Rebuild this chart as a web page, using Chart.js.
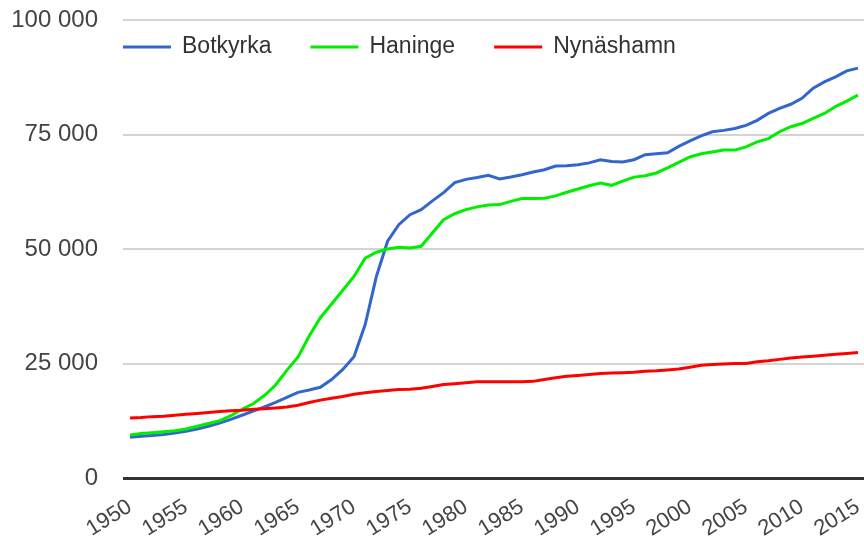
<!DOCTYPE html>
<html>
<head>
<meta charset="utf-8">
<script src="https://cdn.jsdelivr.net/npm/chart.js@4.4.1/dist/chart.umd.min.js"></script>
<style>
  html, body { margin: 0; padding: 0; background: #fff; }
  #wrap { width: 864px; height: 546px; position: relative; }
</style>
</head>
<body>
<div id="wrap"><canvas id="popChart"></canvas></div>
<script>
// Befolkning per år, 1950-2015
const years = [];
for (let y = 1950; y <= 2015; y++) years.push(y);

const botkyrka = [
  8900, 9100, 9300, 9500, 9800, 10200, 10700, 11300, 12000, 12800,
  13700, 14600, 15500, 16500, 17600, 18700, 19200, 19800, 21500, 23700,
  26500, 33500, 44000, 51700, 55300, 57500, 58600, 60500, 62300, 64500,
  65200, 65600, 66100, 65300, 65700, 66200, 66800, 67300, 68100, 68200,
  68400, 68800, 69500, 69100, 69000, 69500, 70600, 70800, 71000, 72400,
  73600, 74700, 75600, 75900, 76300, 77000, 78100, 79600, 80700, 81600,
  82900, 85100, 86500, 87600, 88900, 89500
];

const haninge = [
  9400, 9700, 9900, 10100, 10300, 10700, 11300, 11900, 12500, 13600,
  15000, 16200, 18000, 20300, 23500, 26400, 31000, 35000, 38000, 41000,
  44000, 48000, 49300, 50000, 50400, 50200, 50600, 53500, 56400, 57700,
  58600, 59200, 59600, 59700, 60400, 61000, 61000, 61100, 61600, 62400,
  63100, 63800, 64400, 63900, 64800, 65700, 66000, 66600, 67700, 68900,
  70100, 70800, 71200, 71600, 71600, 72300, 73400, 74100, 75600, 76700,
  77400, 78500, 79600, 81100, 82300, 83600
];

const nynashamn = [
  13100, 13200, 13400, 13500, 13700, 13900, 14100, 14300, 14500, 14700,
  14800, 15000, 15100, 15300, 15500, 15900, 16500, 17000, 17400, 17800,
  18300, 18600, 18900, 19100, 19300, 19400, 19600, 20000, 20400, 20600,
  20800, 21000, 21000, 21000, 21000, 21000, 21100, 21500, 21900, 22200,
  22400, 22600, 22800, 22900, 23000, 23100, 23300, 23400, 23600, 23800,
  24200, 24600, 24800, 24900, 25000, 25000, 25400, 25600, 25900, 26200,
  26400, 26600, 26800, 27000, 27200, 27400
];

const seriesNames = ['Botkyrka', 'Haninge', 'Nynäshamn'];
const seriesColors = ['#3366cc', '#00ee00', '#ff0000'];
const yTicks = [0, 25000, 50000, 75000, 100000];
const xTicks = [1950, 1955, 1960, 1965, 1970, 1975, 1980, 1985, 1990, 1995, 2000, 2005, 2010, 2015];

function toPoints(values) {
  return values.map((v, i) => ({ x: years[i], y: v }));
}

function spaced(v) {
  return String(v).replace(/\B(?=(\d{3})+(?!\d))/g, ' ');
}

Chart.defaults.font.family = '"Liberation Sans", Arial, sans-serif';
Chart.defaults.font.size = 23;
Chart.defaults.color = '#444';

// legend drawn inside the plot, top-left, like the original
const insideLegend = {
  id: 'insideLegend',
  afterDraw(chart) {
    const ctx = chart.ctx;
    const area = chart.chartArea;
    const y = area.top + 27;
    let x = area.left;
    ctx.save();
    ctx.font = '23px "Liberation Sans", Arial, sans-serif';
    ctx.textBaseline = 'middle';
    chart.data.datasets.forEach(ds => {
      ctx.strokeStyle = ds.borderColor;
      ctx.lineWidth = 3;
      ctx.beginPath();
      ctx.moveTo(x, y);
      ctx.lineTo(x + 48, y);
      ctx.stroke();
      ctx.fillStyle = '#333';
      ctx.fillText(ds.label, x + 59, y);
      x += 59 + ctx.measureText(ds.label).width + 39;
    });
    ctx.restore();
  }
};

const ctx = document.getElementById('popChart').getContext('2d');
new Chart(ctx, {
  type: 'line',
  data: {
    datasets: [
      { label: seriesNames[0], data: toPoints(botkyrka), borderColor: seriesColors[0], order: 2 },
      { label: seriesNames[1], data: toPoints(haninge), borderColor: seriesColors[1], order: 1 },
      { label: seriesNames[2], data: toPoints(nynashamn), borderColor: seriesColors[2], order: 0 }
    ]
  },
  options: {
    responsive: true,
    maintainAspectRatio: false,
    animation: false,
    layout: { padding: { top: 20, right: 0, bottom: 0, left: 0 } },
    elements: {
      line: { borderWidth: 3, tension: 0 },
      point: { radius: 0 }
    },
    plugins: {
      legend: { display: false },
      tooltip: { enabled: false }
    },
    scales: {
      x: {
        type: 'linear',
        min: 1949.375,
        max: 2015.54,
        afterBuildTicks: axis => { axis.ticks = xTicks.map(v => ({ value: v })); },
        afterFit: axis => {
          axis.paddingLeft = 0; axis.paddingRight = 0;
          axis.paddingTop = 0; axis.paddingBottom = 0;
          axis.height = 68;
        },
        ticks: {
          autoSkip: false,
          maxRotation: 32,
          minRotation: 32,
          padding: 8,
          font: { size: 22 },
          callback: v => String(v)
        },
        grid: { display: false },
        border: { display: false }
      },
      y: {
        min: 0,
        max: 100000,
        afterBuildTicks: axis => { axis.ticks = yTicks.map(v => ({ value: v })); },
        afterFit: axis => {
          axis.width = 123;
          axis.paddingTop = 0; axis.paddingBottom = 0;
        },
        ticks: {
          padding: 25,
          font: { size: 24 },
          callback: v => spaced(v)
        },
        grid: {
          drawTicks: false,
          color: c => c.tick && c.tick.value === 0 ? '#333' : '#d4d4d4',
          lineWidth: c => c.tick && c.tick.value === 0 ? 3 : 2
        },
        border: { display: false }
      }
    }
  },
  plugins: [insideLegend]
});
</script>
</body>
</html>
